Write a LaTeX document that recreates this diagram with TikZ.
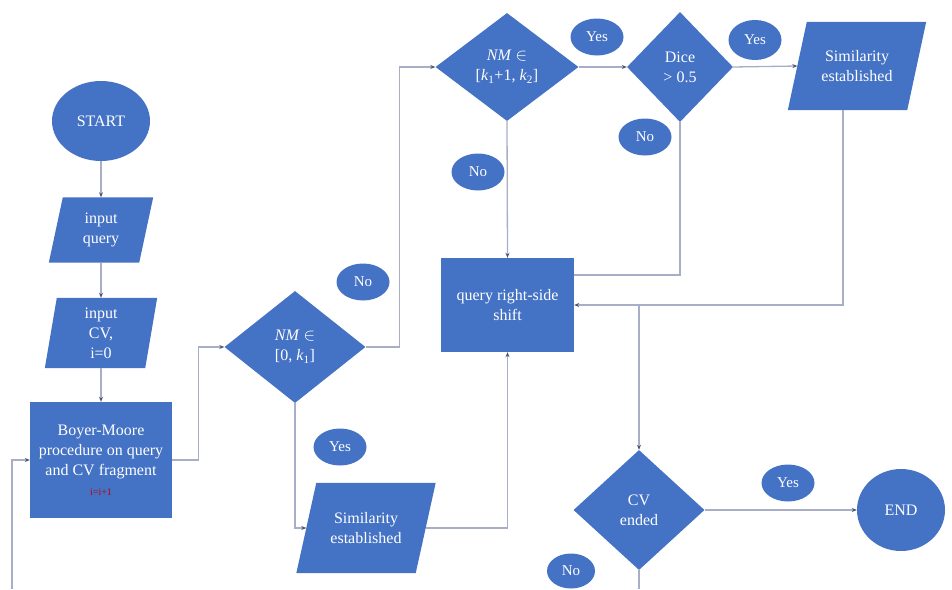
\documentclass[tikz,border=0pt]{standalone}
\usepackage{fontspec}
\setmainfont{Liberation Serif}
\usetikzlibrary{shapes.geometric,arrows.meta,backgrounds,calc}
\definecolor{fc}{HTML}{4472C4}
\definecolor{lc}{HTML}{A7AEC6}
\definecolor{ac}{HTML}{4A5578}
\definecolor{rc}{HTML}{C00000}
\newcommand\paraFill[2]{\fill[fc] ($(#1.north west)+(#2,0)$) -- ($(#1.north east)+(#2,0)$) -- ($(#1.south east)-(#2,0)$) -- ($(#1.south west)-(#2,0)$) -- cycle;}
\tikzset{
  base/.style={fill=fc, text=white, font=\fontsize{16}{20}\selectfont, align=center, inner sep=0pt},
  term/.style={base, ellipse},
  procbox/.style={base, rectangle},
  dec/.style={base, diamond},
  iobox/.style={rectangle, text=white, font=\fontsize{16}{20}\selectfont, align=center, inner sep=0pt},
  lab/.style={base, ellipse, minimum width=53pt, minimum height=37pt, font=\fontsize{15}{16}\selectfont},
  conn/.style={draw=lc, line width=1.3pt},
  arr/.style={conn, -{Stealth[length=5pt,width=4pt,color=ac]}},
}
\begin{document}
\begin{tikzpicture}[x=1pt,y=-1pt]
\useasboundingbox (0,0) rectangle (952,589);
% nodes
\node[term, minimum width=98pt, minimum height=80pt] (start) at (101,121) {START};
\node[iobox, minimum width=90pt, minimum height=65pt] (inq) at (101,230) {input\\query};
\node[iobox, minimum width=100pt, minimum height=70pt] (incv) at (101,333) {input\\CV,\\i=0};
\node[procbox, minimum width=142pt, minimum height=116pt] (bm) at (101,460) {Boyer-Moore\\procedure on query\\and CV fragment\\{\fontsize{10}{10}\selectfont\color{rc}i=i+1}};
\node[dec, minimum width=141pt, minimum height=112pt] (d1) at (295,347) {\textit{NM} $\in$\\{}[0, \textit{k}\textsubscript{1}]};
\node[dec, minimum width=143pt, minimum height=108pt] (d2) at (507,67) {\textit{NM} $\in$\\{}[\textit{k}\textsubscript{1}+1, \textit{k}\textsubscript{2}]};
\node[dec, minimum width=106pt, minimum height=110pt] (d3) at (680,67) {Dice\\> 0.5};
\node[iobox, minimum width=119pt, minimum height=88pt] (sim2) at (857,66) {Similarity\\established};
\node[procbox, minimum width=133pt, minimum height=94pt] (q) at (507.5,305) {query right-side\\shift};
\node[iobox, minimum width=119pt, minimum height=90pt] (sim1) at (366,528) {Similarity\\established};
\node[dec, minimum width=131pt, minimum height=120pt] (cv) at (639,510) {CV\\ended};
\node[term, minimum width=88pt, minimum height=82pt] (end) at (901,510) {END};
% labels
\node[lab] (no1) at (363,282) {No};
\node[lab] (yes1) at (340,447) {Yes};
\node[lab] (no2) at (478,172) {No};
\node[lab] (yes2) at (597,37) {Yes};
\node[lab] (no3) at (645,137) {No};
\node[lab, minimum height=40pt] (yes3) at (755,40) {Yes};
\node[lab] (yes4) at (788,483) {Yes};
\node[lab, minimum width=48pt, minimum height=35pt] (no4) at (571,571) {No};
% parallelogram fills
\begin{scope}[on background layer]
\paraFill{inq}{7}
\paraFill{incv}{6}
\paraFill{sim1}{10}
\paraFill{sim2}{9.5}
\end{scope}
% connectors
\coordinate (fb) at (12,589);
\coordinate (cvout) at (639,589);
\draw[arr] (start.south) -- (inq.north);
\draw[arr] (inq.south) -- (incv.north);
\draw[arr] (incv.south) -- (bm.north);
\draw[arr] (bm.east) -- ++(26,0) |- (d1.west);
\draw[arr] (fb) |- (bm.west);
\draw[arr] (d1.east) -- ++(34,0) |- (d2.west);
\draw[arr] (d1.south) |- (sim1.west);
\draw[arr] (sim1.east) -| (q.south);
\draw[arr] (d2.south) -- (q.north);
\draw[arr] (d2.east) -- (d3.west);
\draw[arr] (d3.east) -- (sim2.west);
\draw[conn] (d3.south) |- ([yshift=30pt]q.east);
\draw[arr] ([xshift=-14pt]sim2.south) |- (q.east);
\draw[arr] (cv.north |- q.east) -- (cv.north);
\draw[arr] (cv.east) -- (end.west);
\draw[conn] (cv.south) -- (cvout);
\end{tikzpicture}
\end{document}
